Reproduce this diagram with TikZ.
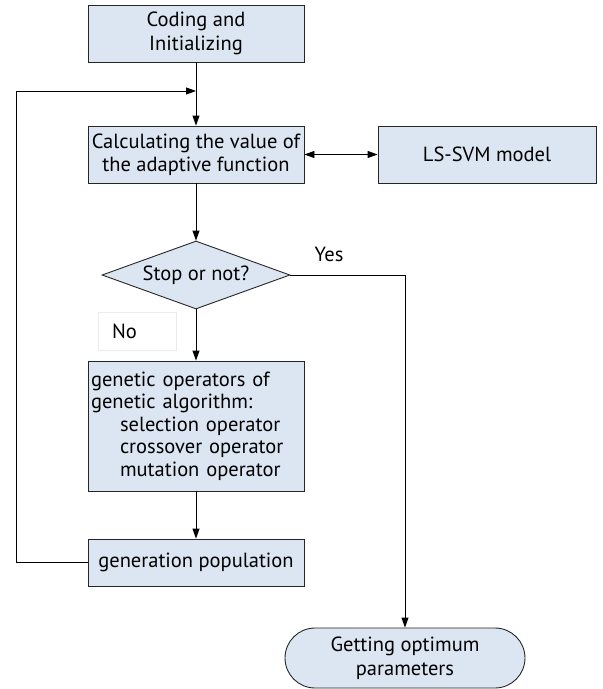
\documentclass[tikz,border=0pt]{standalone}
\usepackage{fontspec}
\setmainfont{PT Sans}
\usepackage{tikz}
\usetikzlibrary{positioning,arrows.meta,shapes.geometric,shapes.misc}
\definecolor{gaFill}{RGB}{220,230,242}
\tikzset{
  gabox/.style={rectangle, draw=black!85, line width=0.9pt, fill=gaFill,
                minimum width=216pt, minimum height=57pt, inner sep=2pt,
                font=\fontsize{20.5}{23.5}\selectfont, align=center},
  gadec/.style={diamond, draw=black!85, line width=0.9pt, fill=gaFill,
                minimum width=188pt, minimum height=68pt, inner sep=0pt,
                shape aspect=2.76, font=\fontsize{20.5}{23.5}\selectfont},
  gaend/.style={rounded rectangle, draw=black!85, line width=0.9pt, fill=gaFill,
                minimum width=244pt, minimum height=60pt, inner sep=2pt,
                font=\fontsize{20.5}{23.5}\selectfont, align=center},
  galab/.style={font=\fontsize{20.5}{23.5}\selectfont},
  gaflow/.style={draw=black, line width=0.9pt,
                 -{Triangle[length=10pt,width=7pt]}},
}

\begin{document}
\begin{tikzpicture}[x=1pt, y=-1pt]
  \useasboundingbox (0,0) rectangle (603,689);
  \node[gabox] (init) at (196,33.5) {Coding and\\Initializing};
  \node[gabox] (calc) at (196,154.5) {Calculating the value of\\the adaptive function};
  \node[gabox, minimum width=218pt] (svm) at (487,154.5) {LS-SVM model};
  \node[gadec] (stop) at (196,275) {Stop or not?};
  \node[gabox, minimum height=130pt, text width=210pt, align=left,
        font=\fontsize{20.5}{22.5}\selectfont] (ops) at (196,426)
    {genetic operators of\\genetic algorithm:\\
     \hspace*{29pt}selection operator\\
     \hspace*{29pt}crossover operator\\
     \hspace*{29pt}mutation operator};
  \node[gabox, minimum height=47pt] (pop) at (196,562.5) {generation population};
  \node[gaend] (opt) at (405,658) {Getting optimum\\parameters};
  \node[galab, draw=black!8, minimum width=78pt, minimum height=38pt,
        text width=50pt, inner xsep=14pt, align=left] (nolab) at (137,331) {No};
  \node[galab] (yeslab) at (329,254) {Yes};
  \coordinate (join) at (196,91);
  \coordinate (back) at (16,91);

  \draw[gaflow] (init) -- (calc);
  \draw[gaflow, {Triangle[length=10pt,width=7pt]}-{Triangle[length=10pt,width=7pt]}] (calc) -- (svm);
  \draw[gaflow] (calc) -- (stop);
  \draw[gaflow] (stop) -- (ops);
  \draw[gaflow] (ops) -- (pop);
  \draw[gaflow] (pop.west) -| (back) -- (join);
  \draw[gaflow] (stop.east) -| (opt.north);
\end{tikzpicture}
\end{document}
